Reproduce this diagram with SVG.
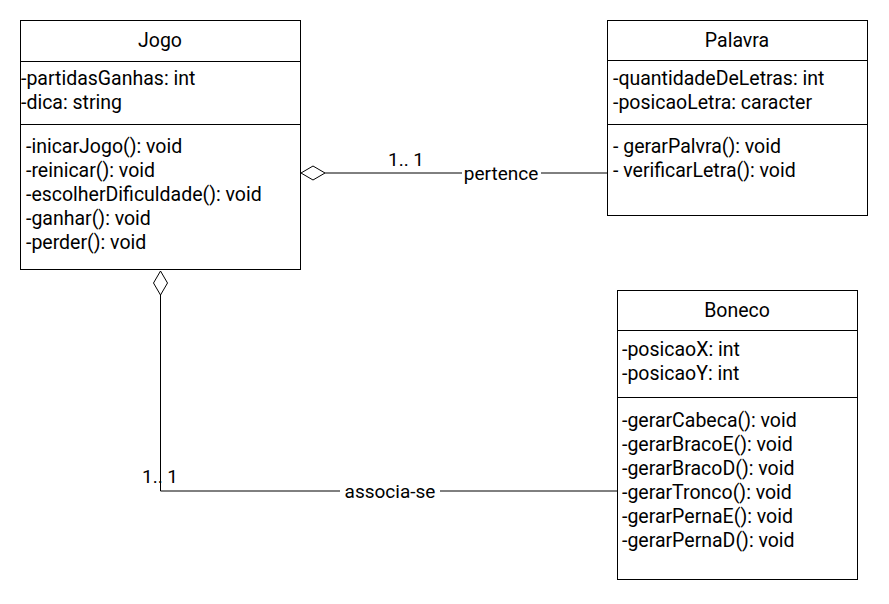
<svg xmlns="http://www.w3.org/2000/svg" width="889" height="604" viewBox="0 0 889 604">
<style>
text{font-family:Roboto,"Liberation Sans",sans-serif;font-size:19.5px;fill:#000}
.box{fill:#fff;stroke:#000;stroke-width:1}
.ln{stroke:#000;stroke-width:1;fill:none}
.c{text-anchor:middle}
.lbl{text-anchor:middle;font-size:19px}
</style>
<rect width="889" height="604" fill="#fff"/>
<g id="connectors">
<path class="ln" d="M325,173 H607"/>
<path class="ln" d="M301,173 L313,166 L325,173 L313,180 Z" fill="#fff"/>
<rect x="462" y="162" width="79" height="20" fill="#fff"/>
<text class="lbl" x="501" y="180">pertence</text>
<text class="lbl" x="406" y="166">1.. 1</text>
<path class="ln" d="M160.5,295 V491 H617"/>
<path class="ln" d="M160.5,271 L167.5,283 L160.5,295 L153.5,283 Z" fill="#fff"/>
<rect x="340" y="481" width="100" height="20" fill="#fff"/>
<text class="lbl" x="390" y="498">associa-se</text>
<text class="lbl" x="160" y="483">1.. 1</text>
</g>
<g id="Jogo">
<rect class="box" x="20.5" y="20.5" width="280" height="249"/>
<path class="ln" d="M20.5,61.5 H300.5 M20.5,124.5 H300.5"/>
<text class="c" x="160" y="47">Jogo</text>
<text x="21" y="85">-partidasGanhas: int</text>
<text x="21" y="109">-dica: string</text>
<text x="26" y="153">-inicarJogo(): void</text>
<text x="26" y="177">-reinicar(): void</text>
<text x="26" y="201">-escolherDificuldade(): void</text>
<text x="26" y="225">-ganhar(): void</text>
<text x="26" y="249">-perder(): void</text>
</g>
<g id="Palavra">
<rect class="box" x="607.5" y="20.5" width="260" height="195"/>
<path class="ln" d="M607.5,60.5 H867.5 M607.5,124.5 H867.5"/>
<text class="c" x="737" y="47">Palavra</text>
<text x="613" y="85">-quantidadeDeLetras: int</text>
<text x="613" y="109">-posicaoLetra: caracter</text>
<text x="613" y="153">- gerarPalvra(): void</text>
<text x="613" y="177">- verificarLetra(): void</text>
</g>
<g id="Boneco">
<rect class="box" x="617.5" y="290.5" width="240" height="289"/>
<path class="ln" d="M617.5,330.5 H857.5 M617.5,397.5 H857.5"/>
<text class="c" x="737" y="317">Boneco</text>
<text x="622" y="356">-posicaoX: int</text>
<text x="622" y="380">-posicaoY: int</text>
<text x="622" y="427">-gerarCabeca(): void</text>
<text x="622" y="451">-gerarBracoE(): void</text>
<text x="622" y="475">-gerarBracoD(): void</text>
<text x="622" y="499">-gerarTronco(): void</text>
<text x="622" y="523">-gerarPernaE(): void</text>
<text x="622" y="547">-gerarPernaD(): void</text>
</g>
</svg>
